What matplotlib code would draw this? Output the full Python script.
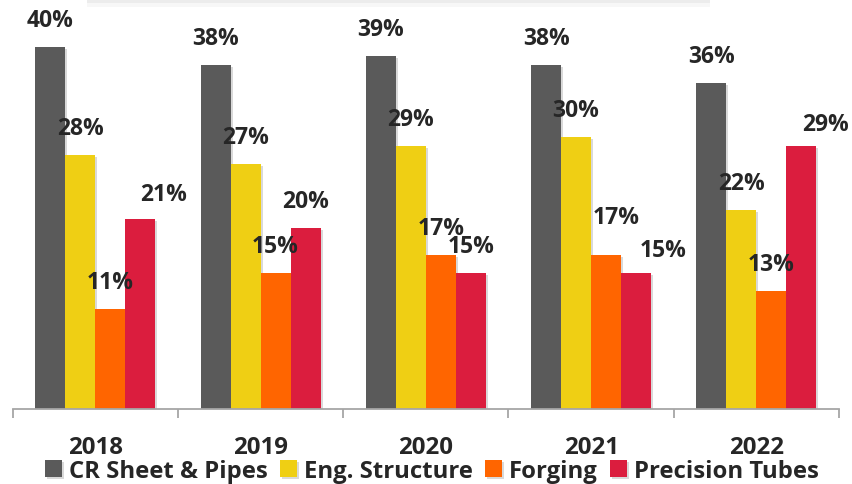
import matplotlib.pyplot as plt
import matplotlib.patheffects as pe
from matplotlib.patches import Rectangle
import numpy as np

# data
years = ["2018", "2019", "2020", "2021", "2022"]
series = ["CR Sheet & Pipes", "Eng. Structure", "Forging", "Precision Tubes"]
cr_sheet = [40, 38, 39, 38, 36]
eng_structure = [28, 27, 29, 30, 22]
forging = [11, 15, 17, 17, 13]
precision_tubes = [21, 20, 15, 15, 29]

colors = ["#5a5a5a", "#efcf14", "#ff6500", "#db1d3e"]
text_color = "#262626"

# label nudges in pixels (dx, dy) relative to default spot above each bar
label_nudge = {
    (3, 0): (23, -2),
    (2, 3): (10, 11),
    (3, 3): (27, -4),
    (3, 4): (24, -5),
}

plt.rcParams["font.family"] = ["Open Sans", "DejaVu Sans"]

fig = plt.figure(figsize=(8.52, 4.85), dpi=100)
ax = fig.add_axes([12.7 / 852, 75.5 / 485, 826.3 / 852, 407 / 485])

x = np.arange(len(years))
width = 0.1815
offsets = [-1.5 * width, -0.5 * width, 0.5 * width, 1.5 * width]
all_vals = [cr_sheet, eng_structure, forging, precision_tubes]

shadow = [pe.SimplePatchShadow(offset=(1.5, -1.5), shadow_rgbFace="#000000", alpha=0.15), pe.Normal()]

for i, (name, vals) in enumerate(zip(series, all_vals)):
    bars = ax.bar(x + offsets[i], vals, width, color=colors[i], label=name,
                  linewidth=0, zorder=2)
    for b in bars:
        b.set_path_effects(shadow)
    for j, (b, v) in enumerate(zip(bars, vals)):
        dx, dy = label_nudge.get((i, j), (0, 0))
        ax.annotate(f"{v}%", (b.get_x() + b.get_width() / 2, v),
                    xytext=(dx, 27 + dy), textcoords="offset pixels",
                    ha="center", va="center", fontsize=16.5, fontweight="bold",
                    color=text_color, annotation_clip=False, zorder=3)

ax.set_xlim(-0.5, len(years) - 0.5)
ax.set_ylim(0, 45)
ax.set_yticks([])
for s in ["left", "right", "top"]:
    ax.spines[s].set_visible(False)
ax.spines["bottom"].set_color("#a6a6a6")
ax.spines["bottom"].set_linewidth(1.3)

ax.set_xticks(x)
ax.set_xticklabels(years, fontsize=17.3, fontweight="bold", color=text_color)
ax.tick_params(axis="x", which="major", length=0, pad=19)
ax.set_xticks(np.arange(-0.5, len(years)), minor=True)
ax.tick_params(axis="x", which="minor", length=6.5, width=1.3, color="#a6a6a6")

# faint box shadow at the top edge
fig.patches.append(Rectangle((87 / 852, 481 / 485), 623 / 852, 4 / 485,
                             transform=fig.transFigure, color="#ececec", lw=0))
fig.patches.append(Rectangle((87 / 852, 477 / 485), 623 / 852, 4 / 485,
                             transform=fig.transFigure, color="#f7f7f7", lw=0))

leg = fig.legend(loc="center", bbox_to_anchor=(432 / 852, 13 / 485), ncol=4,
                 frameon=False,
                 prop={"weight": "bold", "size": 17.2},
                 handlelength=0.72, handleheight=0.72, handletextpad=0.3,
                 columnspacing=0.5, borderpad=0, borderaxespad=0)
for t in leg.get_texts():
    t.set_color(text_color)

plt.savefig("out.png", dpi=100)
